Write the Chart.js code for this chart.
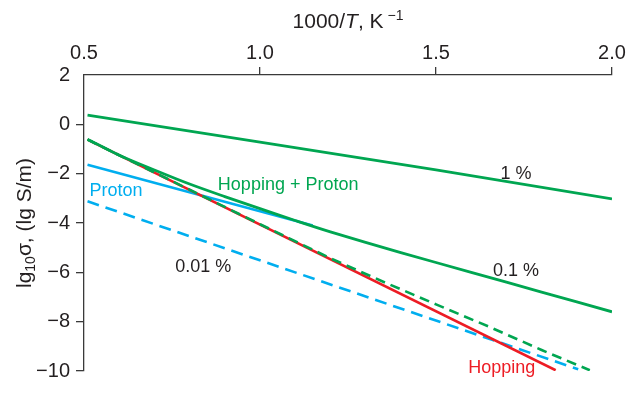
<!DOCTYPE html>
<html lang="en">
  <head>
    <meta charset="UTF-8" />
    <title>lg conductivity vs 1000/T</title>
    <script src="https://cdn.jsdelivr.net/npm/chart.js@4.4.0/dist/chart.umd.min.js"></script>
    <style>
      html, body { margin: 0; padding: 0; background: #fff; }
      #wrap { width: 638px; height: 393px; }
    </style>
  </head>
  <body>
    <div id="wrap"><canvas id="myChart" width="638" height="393"></canvas></div>

    <script>
      // values (x = 1000/T, y = lg sigma)
      const xTicks = [0.5, 1.0, 1.5, 2.0];
      const yTicks = [2, 0, -2, -4, -6, -8, -10];

      const onePctX = [0.51, 1.0, 1.5, 2.0];
      const onePctY = [0.37, -0.72, -1.85, -3.02];

      const total01X = [0.51, 0.6, 0.7, 0.8, 0.9, 1.0, 1.1, 1.2, 1.4, 1.6, 1.8, 2.0];
      const total01Y = [-0.6, -1.25, -1.85, -2.42, -2.93, -3.42, -3.9, -4.36, -5.2, -6.0, -6.8, -7.6];

      const hoppingX = [0.51, 1.84];
      const hoppingY = [-0.62, -9.97];

      const proton01X = [0.51, 1.15];
      const proton01Y = [-1.64, -4.1];

      const proton001X = [0.51, 1.904];
      const proton001Y = [-3.12, -9.93];

      const total001X = [0.51, 1.0, 1.2, 1.35, 1.5, 1.65, 1.8, 1.937];
      const total001Y = [-0.62, -4.05, -5.43, -6.38, -7.3, -8.2, -9.15, -9.97];

      // text labels in the plot, placed in data units
      const labelText = ["1 %", "0.1 %", "0.01 %", "Proton", "Hopping + Proton", "Hopping"];
      const labelX = [1.727, 1.727, 0.839, 0.591, 1.08, 1.687];
      const labelY = [-2.2, -6.13, -5.97, -2.89, -2.67, -10.1];

      const GREEN = "#00a651";
      const RED = "#ed1c24";
      const BLUE = "#00aeef";
      const INK = "#231f20";
      const AXIS = "#3a3a3a";
      const FONT = "'Liberation Sans', Arial, Helvetica, sans-serif";
      const labelColor = [INK, INK, INK, BLUE, GREEN, RED];

      function pts(xs, ys) {
        return xs.map((x, i) => ({ x: x, y: ys[i] }));
      }

      const textPlugin = {
        id: "texts",
        afterDatasetsDraw(chart) {
          const ctx = chart.ctx;
          const xs = chart.scales.x;
          const ys = chart.scales.y;
          const area = chart.chartArea;
          ctx.save();

          // labels inside the plot
          ctx.font = "18px " + FONT;
          ctx.textAlign = "center";
          ctx.textBaseline = "alphabetic";
          labelText.forEach((t, i) => {
            ctx.fillStyle = labelColor[i];
            ctx.fillText(t, xs.getPixelForValue(labelX[i]), ys.getPixelForValue(labelY[i]));
          });

          // top axis title: 1000/T, K^-1
          ctx.textAlign = "left";
          ctx.fillStyle = INK;
          const parts = [
            { t: "1000/", f: "21px " + FONT, dy: 0 },
            { t: "T", f: "italic 21px " + FONT, dy: 0 },
            { t: ", K", f: "21px " + FONT, dy: 0 },
            { t: " \u22121", f: "14px " + FONT, dy: -8 },
          ];
          let w = 0;
          parts.forEach((p) => { ctx.font = p.f; w += ctx.measureText(p.t).width; });
          let x = (area.left + area.right) / 2 - w / 2;
          parts.forEach((p) => {
            ctx.font = p.f;
            ctx.fillText(p.t, x, 28 + p.dy);
            x += ctx.measureText(p.t).width;
          });

          // left axis title: lg10 sigma, (lg S/m)
          const yparts = [
            { t: "lg", f: "21px " + FONT, dy: 0 },
            { t: "10", f: "14px " + FONT, dy: 4 },
            { t: "\u03c3, (lg S/m)", f: "21px " + FONT, dy: 0 },
          ];
          w = 0;
          yparts.forEach((p) => { ctx.font = p.f; w += ctx.measureText(p.t).width; });
          ctx.translate(31, (area.top + area.bottom) / 2);
          ctx.rotate(-Math.PI / 2);
          x = -w / 2;
          yparts.forEach((p) => {
            ctx.font = p.f;
            ctx.fillText(p.t, x, p.dy);
            x += ctx.measureText(p.t).width;
          });
          ctx.restore();
        },
      };

      const ctx = document.getElementById("myChart").getContext("2d");
      const myChart = new Chart(ctx, {
        type: "line",
        data: {
          datasets: [
            { data: pts(total001X, total001Y), borderColor: GREEN, borderWidth: 2.6, borderDash: [10, 6] },
            { data: pts(total01X, total01Y), borderColor: GREEN, borderWidth: 2.8, tension: 0.3 },
            { data: pts(hoppingX, hoppingY), borderColor: RED, borderWidth: 2.6 },
            { data: pts(proton01X, proton01Y), borderColor: BLUE, borderWidth: 2.6 },
            { data: pts(proton001X, proton001Y), borderColor: BLUE, borderWidth: 2.6, borderDash: [12, 7] },
            { data: pts(onePctX, onePctY), borderColor: GREEN, borderWidth: 2.8 },
          ],
        },
        options: {
          responsive: false,
          animation: false,
          events: [],
          layout: { padding: { left: 0, top: 0, right: 26, bottom: 22 } },
          elements: { point: { radius: 0 }, line: { fill: false, borderCapStyle: "butt" } },
          plugins: { legend: { display: false }, tooltip: { enabled: false } },
          scales: {
            x: {
              type: "linear",
              position: "top",
              min: 0.5,
              max: 2.0,
              afterBuildTicks: (s) => { s.ticks = xTicks.map((v) => ({ value: v })); },
              afterFit: (s) => { s.height = 75; },
              ticks: {
                color: INK,
                font: { size: 20, family: FONT },
                padding: 2,
                maxRotation: 0,
                callback: (v) => Number(v).toFixed(1),
              },
              grid: {
                drawOnChartArea: false,
                tickLength: 8,
                lineWidth: 1.3,
                color: (c) => (c.tick && c.tick.value === 0.5 ? "rgba(0,0,0,0)" : AXIS),
              },
              border: { display: true, color: AXIS, width: 1.3 },
            },
            y: {
              type: "linear",
              position: "left",
              min: -10,
              max: 2,
              afterBuildTicks: (s) => { s.ticks = yTicks.map((v) => ({ value: v })); },
              afterFit: (s) => { s.width = 84; },
              ticks: {
                color: INK,
                font: { size: 20, family: FONT },
                padding: 6,
                callback: (v) => String(v).replace("-", "\u2212"),
              },
              grid: {
                drawOnChartArea: false,
                tickLength: 8,
                lineWidth: 1.3,
                color: (c) => (c.tick && c.tick.value === 2 ? "rgba(0,0,0,0)" : AXIS),
              },
              border: { display: true, color: AXIS, width: 1.3 },
            },
          },
        },
        plugins: [textPlugin],
      });
    </script>
  </body>
</html>
